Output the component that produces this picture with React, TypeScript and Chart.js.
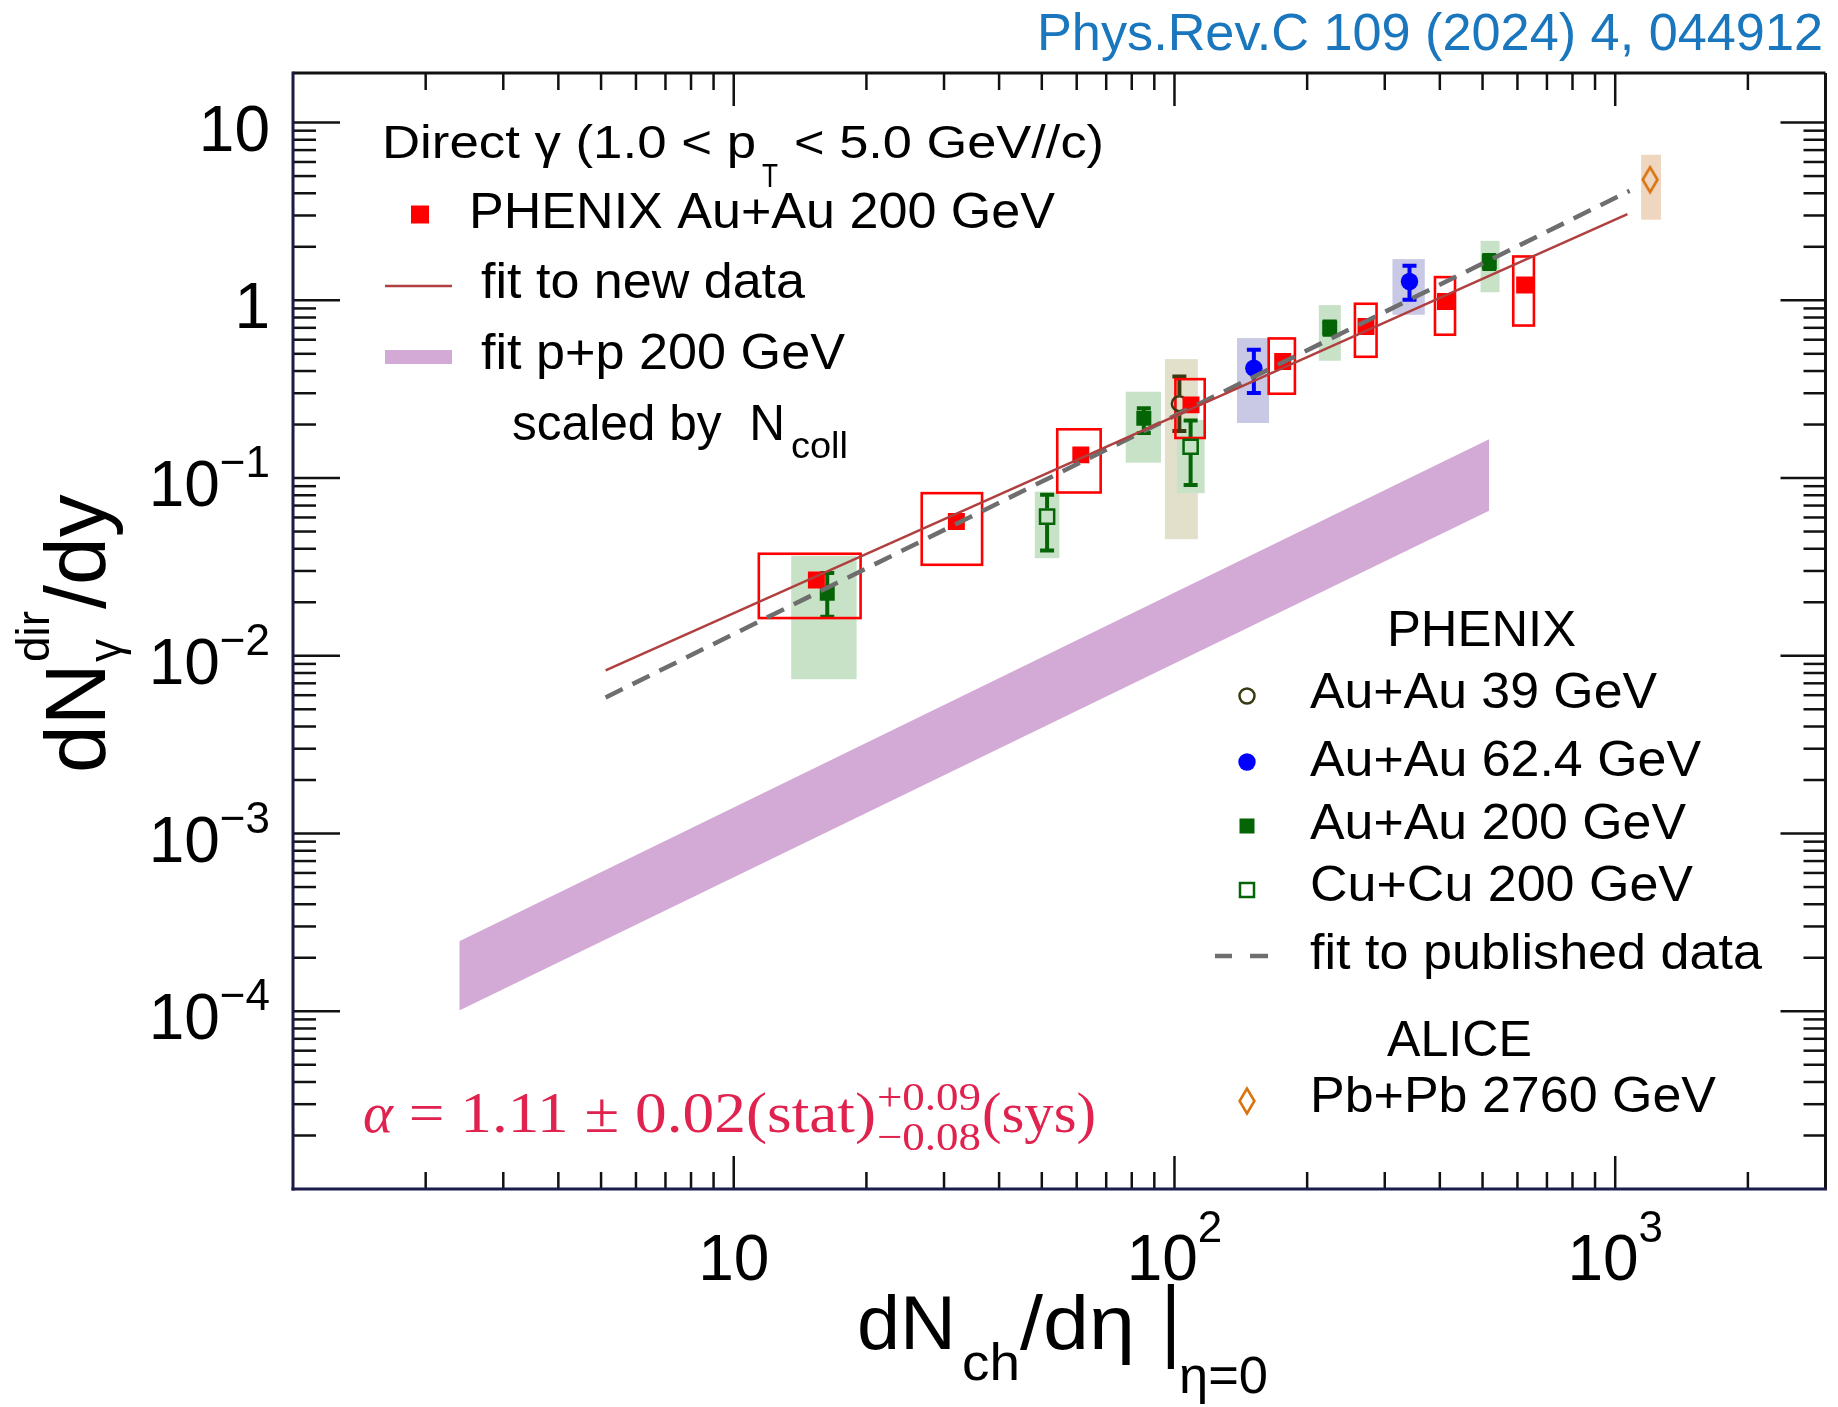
import React, { useEffect, useRef } from 'react';
import { Chart, registerables } from 'chart.js';

Chart.register(...registerables);

const W = 1838;
const H = 1407;

// ---------------- axis ranges ----------------
const X_MIN = 1;
const X_MAX = 3000;
const Y_MIN = 1e-5;
const Y_MAX = 19;
const xTickExps = [1, 2, 3];
const yTickExps = [1, 0, -1, -2, -3, -4];

// ---------------- PHENIX Au+Au 200 GeV (new data) ----------------
const newX = [15.4, 32.0, 61.3, 109, 176, 272, 412, 623];
const newY = [0.0267, 0.0569, 0.135, 0.258, 0.452, 0.712, 0.984, 1.22];
const newSysXLo = [11.4, 26.7, 54.2, 100.5, 163.6, 256.7, 390, 587];
const newSysXHi = [19.4, 36.6, 68.0, 117.1, 187.6, 287.4, 433, 654];
const newSysYLo = [0.0163, 0.0325, 0.0829, 0.168, 0.298, 0.481, 0.64, 0.721];
const newSysYHi = [0.0375, 0.0822, 0.188, 0.36, 0.61, 0.956, 1.35, 1.764];

// ---------------- PHENIX Au+Au 200 GeV (published) ----------------
const au200X = [16.3, 85.2, 225, 518];
const au200Y = [0.0225, 0.217, 0.698, 1.65];
const au200StatLo = [0.0166, 0.179, 0.64, 1.5];
const au200StatHi = [0.0292, 0.247, 0.76, 1.8];
const au200SysXLo = [13.5, 77.5, 212.6, 494.9];
const au200SysXHi = [19.0, 93.2, 238.5, 546.5];
const au200SysYLo = [0.00738, 0.122, 0.457, 1.11];
const au200SysYHi = [0.0365, 0.306, 0.94, 2.16];

// ---------------- PHENIX Cu+Cu 200 GeV ----------------
const cuX = [51.4, 108.8];
const cuY = [0.0607, 0.15];
const cuStatLo = [0.0391, 0.0915];
const cuStatHi = [0.0804, 0.211];
const cuSysXLo = [48.2, 101.3];
const cuSysXHi = [54.8, 117.1];
const cuSysYLo = [0.0354, 0.0822];
const cuSysYHi = [0.0838, 0.212];

// ---------------- PHENIX Au+Au 39 GeV ----------------
const au39X = [102.6];
const au39Y = [0.262];
const au39StatLo = [0.184];
const au39StatHi = [0.373];
const au39SysXLo = [95.1];
const au39SysXHi = [113];
const au39SysYLo = [0.0453];
const au39SysYHi = [0.467];

// ---------------- PHENIX Au+Au 62.4 GeV ----------------
const au62X = [151.4, 341.4];
const au62Y = [0.415, 1.276];
const au62StatLo = [0.3005, 1.006];
const au62StatHi = [0.527, 1.564];
const au62SysXLo = [138.6, 312.3];
const au62SysXHi = [163.9, 369.8];
const au62SysYLo = [0.204, 0.829];
const au62SysYHi = [0.613, 1.705];

// ---------------- ALICE Pb+Pb 2760 GeV ----------------
const aliceX = [1200];
const aliceY = [4.77];
const aliceSysXLo = [1145];
const aliceSysXHi = [1270];
const aliceSysYLo = [2.84];
const aliceSysYHi = [6.59];

// ---------------- fits ----------------
const fitNewX = [5.12, 1066];
const fitNewY = [0.00828, 3.05];
const fitPubX = [5.12, 1078];
const fitPubY = [0.00583, 4.13];
const ppX = [2.384, 517.4];
const ppYLo = [1.01e-4, 0.0654];
const ppYHi = [2.48e-4, 0.165];

// ---------------- styles ----------------
const SANS = '"Liberation Sans", Arial, Helvetica, sans-serif';
const SERIF = '"Liberation Serif", "Times New Roman", serif';
const RED = '#ff0000';
const FIT_RED = '#b0403f';
const GREEN = '#056405';
const GREEN_SHADE = '#c8e2c8';
const BLUE = '#0000ff';
const BLUE_SHADE = '#c9c9e5';
const OLIVE = '#3a3a12';
const OLIVE_SHADE = '#e2e0cb';
const ORANGE = '#d8730e';
const ORANGE_SHADE = '#eed6c0';
const PURPLE = '#d3aad5';
const GRAY = '#6e6e6e';
const ALPHA_RED = '#e0224e';
const CITE_BLUE = '#1a76bd';

const pts = (xs: number[], ys: number[]) => xs.map((x, i) => ({ x, y: ys[i] }));

function drawText(
  ctx: CanvasRenderingContext2D,
  s: string,
  x: number,
  y: number,
  size: number,
  o: { w?: number; sy?: number; align?: string; color?: string; family?: string; style?: string } = {}
) {
  ctx.save();
  ctx.font = `${o.style ? o.style + ' ' : ''}${size}px ${o.family ?? SANS}`;
  ctx.fillStyle = o.color ?? '#000';
  ctx.textAlign = 'left';
  ctx.textBaseline = 'alphabetic';
  const nat = ctx.measureText(s).width;
  const sx = o.w ? o.w / nat : 1;
  const tw = nat * sx;
  const x0 = o.align === 'right' ? x - tw : o.align === 'center' ? x - tw / 2 : x;
  ctx.translate(x0, y);
  ctx.scale(sx, o.sy ?? 1);
  ctx.fillText(s, 0, 0);
  ctx.restore();
  return tw;
}

function measure(ctx: CanvasRenderingContext2D, s: string, size: number, family = SANS, style = '') {
  ctx.save();
  ctx.font = `${style ? style + ' ' : ''}${size}px ${family}`;
  const w = ctx.measureText(s).width;
  ctx.restore();
  return w;
}

function makeDiamond(color: string, w: number, h: number, lw: number) {
  const c = document.createElement('canvas');
  c.width = w;
  c.height = h;
  const g = c.getContext('2d')!;
  g.strokeStyle = color;
  g.lineWidth = lw;
  g.beginPath();
  g.moveTo(w / 2, lw);
  g.lineTo(w - lw, h / 2);
  g.lineTo(w / 2, h - lw);
  g.lineTo(lw, h / 2);
  g.closePath();
  g.stroke();
  return c;
}

export default function App() {
  const ref = useRef<HTMLCanvasElement>(null);

  useEffect(() => {
    const canvas = ref.current!;
    const diamond = makeDiamond(ORANGE, 20, 30, 2.6);

    const rootPlugin = {
      id: 'rootStyle',
      beforeDatasetsDraw(chart: any) {
        const { ctx, chartArea: a } = chart;
        const X = (v: number) => chart.scales.x.getPixelForValue(v);
        const Y = (v: number) => chart.scales.y.getPixelForValue(v);
        ctx.save();
        ctx.beginPath();
        ctx.rect(a.left, a.top, a.right - a.left, a.bottom - a.top);
        ctx.clip();

        const shade = (xl: number[], xh: number[], yl: number[], yh: number[], col: string) => {
          ctx.fillStyle = col;
          xl.forEach((_, i) => {
            const x0 = X(xl[i]);
            const x1 = X(xh[i]);
            const y0 = Y(yh[i]);
            const y1 = Y(yl[i]);
            ctx.fillRect(x0, y0, x1 - x0, y1 - y0);
          });
        };
        shade(au39SysXLo, au39SysXHi, au39SysYLo, au39SysYHi, OLIVE_SHADE);
        shade(au200SysXLo, au200SysXHi, au200SysYLo, au200SysYHi, GREEN_SHADE);
        shade(cuSysXLo, cuSysXHi, cuSysYLo, cuSysYHi, GREEN_SHADE);
        shade(au62SysXLo, au62SysXHi, au62SysYLo, au62SysYHi, BLUE_SHADE);
        shade(aliceSysXLo, aliceSysXHi, aliceSysYLo, aliceSysYHi, ORANGE_SHADE);

        // stat error bars
        const bars = (xs: number[], ys: number[], lo: number[], hi: number[], col: string, gap: number) => {
          ctx.strokeStyle = col;
          ctx.lineWidth = 4;
          xs.forEach((x, i) => {
            const px = X(x);
            const py = Y(ys[i]);
            const pl = Y(lo[i]);
            const ph = Y(hi[i]);
            ctx.beginPath();
            ctx.moveTo(px, pl);
            ctx.lineTo(px, py + gap);
            ctx.moveTo(px, py - gap);
            ctx.lineTo(px, ph);
            ctx.moveTo(px - 7, pl);
            ctx.lineTo(px + 7, pl);
            ctx.moveTo(px - 7, ph);
            ctx.lineTo(px + 7, ph);
            ctx.stroke();
          });
        };
        bars(au39X, au39Y, au39StatLo, au39StatHi, OLIVE, 8);
        bars(au200X, au200Y, au200StatLo, au200StatHi, GREEN, 0);
        bars(cuX, cuY, cuStatLo, cuStatHi, GREEN, 8);
        bars(au62X, au62Y, au62StatLo, au62StatHi, BLUE, 0);

        // red open sys boxes
        ctx.strokeStyle = RED;
        ctx.lineWidth = 2.6;
        newX.forEach((_, i) => {
          const x0 = X(newSysXLo[i]);
          const x1 = X(newSysXHi[i]);
          const y0 = Y(newSysYHi[i]);
          const y1 = Y(newSysYLo[i]);
          ctx.strokeRect(x0, y0, x1 - x0, y1 - y0);
        });
        ctx.restore();
      },
      afterDraw(chart: any) {
        const { ctx, chartArea: a } = chart;
        const xs = chart.scales.x;
        const ys = chart.scales.y;
        ctx.save();
        const seg = (x0: number, y0: number, x1: number, y1: number) => {
          ctx.beginPath();
          ctx.moveTo(x0, y0);
          ctx.lineTo(x1, y1);
          ctx.stroke();
        };
        // ticks
        ctx.strokeStyle = '#111';
        ctx.lineWidth = 2.5;
        for (let e = 0; e <= 3; e++) {
          for (let m = 1; m <= 9; m++) {
            const v = m * Math.pow(10, e);
            if (v <= X_MIN || v > X_MAX) continue;
            const px = xs.getPixelForValue(v);
            const L = m === 1 ? 33 : 17;
            seg(px, a.bottom, px, a.bottom - L);
            seg(px, a.top, px, a.top + L);
          }
        }
        for (let e = -5; e <= 1; e++) {
          for (let m = 1; m <= 9; m++) {
            const v = m * Math.pow(10, e);
            if (v <= Y_MIN * 1.001 || v > Y_MAX) continue;
            const py = ys.getPixelForValue(v);
            seg(a.left, py, a.left + (m === 1 ? 47 : 23), py);
            seg(a.right, py, a.right - (m === 1 ? 45 : 22), py);
          }
        }
        // frame
        ctx.lineWidth = 3;
        ctx.strokeStyle = '#111';
        seg(a.left, a.top, a.right, a.top);
        seg(a.right, a.top, a.right, a.bottom);
        ctx.strokeStyle = '#1b1b4a';
        seg(a.left, a.top - 1.5, a.left, a.bottom + 1.5);
        seg(a.left - 1.5, a.bottom, a.right + 1.5, a.bottom);

        // tick labels
        for (const e of yTickExps) {
          const py = ys.getPixelForValue(Math.pow(10, e));
          const right = 270;
          if (e >= 0) {
            drawText(ctx, e === 1 ? '10' : '1', right, py + 28, 64, { align: 'right' });
          } else {
            const sup = '\u2212' + String(-e);
            const ws = measure(ctx, sup, 44);
            drawText(ctx, sup, right - ws, py - 1, 44);
            drawText(ctx, '10', right - ws, py + 28, 64, { align: 'right' });
          }
        }
        for (const e of xTickExps) {
          const px = xs.getPixelForValue(Math.pow(10, e));
          const sup = e === 1 ? '' : String(e);
          const wm = measure(ctx, '10', 64);
          const ws = sup ? measure(ctx, sup, 44) : 0;
          const x0 = px - (wm + ws) / 2;
          drawText(ctx, '10', x0, 1280, 64);
          if (sup) drawText(ctx, sup, x0 + wm, 1242, 44);
        }

        // axis titles
        drawText(ctx, 'dN', 857, 1349, 76, { w: 99 });
        drawText(ctx, 'ch', 962, 1380, 52, { w: 58 });
        drawText(ctx, '/d\u03b7', 1020, 1349, 76, { w: 115 });
        drawText(ctx, '|', 1161, 1350, 76, { sy: 1.2 });
        drawText(ctx, '\u03b7=0', 1179, 1393, 52, { w: 89 });

        ctx.save();
        ctx.translate(105, 773);
        ctx.rotate(-Math.PI / 2);
        const wdN = drawText(ctx, 'dN', 0, 0, 86);
        const wdir = drawText(ctx, 'dir', wdN + 1, -56, 46);
        drawText(ctx, '\u03b3', wdN + 1, 16, 46);
        drawText(ctx, '/dy', wdN + wdir + 3, 0, 86);
        ctx.restore();

        // citation
        drawText(ctx, 'Phys.Rev.C 109 (2024) 4, 044912', 1037, 50, 52, { w: 786, color: CITE_BLUE });

        // top-left legend
        drawText(ctx, 'Direct \u03b3 (1.0 < p', 382, 158, 47, { w: 374 });
        drawText(ctx, 'T', 762, 187, 34, { w: 16 });
        drawText(ctx, '< 5.0 GeV//c)', 794, 158, 47, { w: 310 });
        ctx.fillStyle = RED;
        ctx.fillRect(411, 205.5, 18, 18);
        drawText(ctx, 'PHENIX Au+Au 200 GeV', 469, 228, 50, { w: 586 });
        ctx.strokeStyle = FIT_RED;
        ctx.lineWidth = 2.5;
        seg(385, 286, 452, 286);
        drawText(ctx, 'fit to new data', 481, 298, 50, { w: 324 });
        ctx.fillStyle = PURPLE;
        ctx.fillRect(385, 350, 67, 14);
        drawText(ctx, 'fit p+p 200 GeV', 481, 369, 50, { w: 364 });
        drawText(ctx, 'scaled by  N', 512, 440, 50, { w: 273 });
        drawText(ctx, 'coll', 791, 458, 36, { w: 57 });

        // right legend
        const mx = 1247;
        drawText(ctx, 'PHENIX', 1387, 646, 50, { w: 189 });
        ctx.strokeStyle = OLIVE;
        ctx.lineWidth = 2.5;
        ctx.beginPath();
        ctx.arc(mx, 696, 7.5, 0, Math.PI * 2);
        ctx.stroke();
        drawText(ctx, 'Au+Au 39 GeV', 1310, 708, 50, { w: 347 });
        ctx.fillStyle = BLUE;
        ctx.beginPath();
        ctx.arc(mx, 762, 8.7, 0, Math.PI * 2);
        ctx.fill();
        drawText(ctx, 'Au+Au 62.4 GeV', 1310, 776, 50, { w: 391 });
        ctx.fillStyle = GREEN;
        ctx.fillRect(mx - 7.5, 826 - 7.5, 15, 15);
        drawText(ctx, 'Au+Au 200 GeV', 1310, 839, 50, { w: 376 });
        ctx.strokeStyle = GREEN;
        ctx.lineWidth = 2.5;
        ctx.strokeRect(mx - 7, 890 - 7, 14, 14);
        drawText(ctx, 'Cu+Cu 200 GeV', 1310, 901, 50, { w: 383 });
        ctx.strokeStyle = GRAY;
        ctx.lineWidth = 4.5;
        seg(1215, 956, 1232, 956);
        seg(1250, 956, 1268, 956);
        drawText(ctx, 'fit to published data', 1310, 969, 50, { w: 452 });
        drawText(ctx, 'ALICE', 1387, 1056, 50, { w: 145 });
        ctx.drawImage(diamond, mx - 10, 1101 - 15);
        drawText(ctx, 'Pb+Pb 2760 GeV', 1310, 1112, 50, { w: 406 });

        // alpha
        const wa = drawText(ctx, '\u03b1', 363, 1132, 57, { family: SERIF, style: 'italic', color: ALPHA_RED });
        drawText(ctx, ' = 1.11 \u00b1 0.02(stat)', 363 + wa, 1132, 57, { family: SERIF, color: ALPHA_RED, w: 876 - 363 - wa });
        drawText(ctx, '+0.09', 877, 1110, 40, { family: SERIF, color: ALPHA_RED, w: 104 });
        drawText(ctx, '\u22120.08', 877, 1150, 40, { family: SERIF, color: ALPHA_RED, w: 104 });
        drawText(ctx, '(sys)', 982, 1132, 57, { family: SERIF, color: ALPHA_RED, w: 114 });

        ctx.restore();
      },
    };

    const chart = new Chart(canvas, {
      type: 'scatter',
      data: {
        datasets: [
          {
            type: 'line',
            label: 'pp low',
            data: pts(ppX, ppYLo),
            borderWidth: 0,
            pointRadius: 0,
            fill: false,
            order: 10,
          } as any,
          {
            type: 'line',
            label: 'fit p+p 200 GeV scaled by Ncoll',
            data: pts(ppX, ppYHi),
            borderWidth: 0,
            pointRadius: 0,
            fill: '-1',
            backgroundColor: PURPLE,
            order: 9,
          } as any,
          {
            type: 'line',
            label: 'fit to new data',
            data: pts(fitNewX, fitNewY),
            borderColor: FIT_RED,
            borderWidth: 2.5,
            pointRadius: 0,
            fill: false,
            order: 0,
          } as any,
          {
            type: 'line',
            label: 'fit to published data',
            data: pts(fitPubX, fitPubY),
            borderColor: GRAY,
            borderWidth: 4.5,
            borderDash: [19, 11],
            pointRadius: 0,
            fill: false,
            order: 0,
          } as any,
          {
            label: 'PHENIX Au+Au 200 GeV',
            data: pts(newX, newY),
            pointStyle: 'rect',
            pointRadius: 12,
            pointHoverRadius: 12,
            backgroundColor: RED,
            borderWidth: 0,
            order: 2,
          },
          {
            label: 'Au+Au 200 GeV',
            data: pts(au200X, au200Y),
            pointStyle: 'rect',
            pointRadius: 10.6,
            pointHoverRadius: 10.6,
            backgroundColor: GREEN,
            borderWidth: 0,
            order: 3,
          },
          {
            label: 'Cu+Cu 200 GeV',
            data: pts(cuX, cuY),
            pointStyle: 'rect',
            pointRadius: 10,
            pointHoverRadius: 10,
            backgroundColor: 'rgba(0,0,0,0)',
            borderColor: GREEN,
            borderWidth: 2.5,
            order: 3,
          },
          {
            label: 'Au+Au 39 GeV',
            data: pts(au39X, au39Y),
            pointStyle: 'circle',
            pointRadius: 7.5,
            pointHoverRadius: 7.5,
            backgroundColor: 'rgba(0,0,0,0)',
            borderColor: OLIVE,
            borderWidth: 2.5,
            order: 4,
          },
          {
            label: 'Au+Au 62.4 GeV',
            data: pts(au62X, au62Y),
            pointStyle: 'circle',
            pointRadius: 8.7,
            pointHoverRadius: 8.7,
            backgroundColor: BLUE,
            borderWidth: 0,
            order: 3,
          },
          {
            label: 'Pb+Pb 2760 GeV',
            data: pts(aliceX, aliceY),
            pointStyle: diamond as any,
            pointRadius: 10,
            order: 3,
          },
        ],
      },
      options: {
        responsive: false,
        animation: false,
        devicePixelRatio: 1,
        events: [],
        layout: { padding: { left: 293, top: 73, right: 1.5, bottom: 218 } },
        plugins: { legend: { display: false }, tooltip: { enabled: false } },
        scales: {
          x: { type: 'logarithmic', min: X_MIN, max: X_MAX, display: false },
          y: { type: 'logarithmic', min: Y_MIN, max: Y_MAX, display: false },
        },
      },
      plugins: [rootPlugin],
    });
    return () => chart.destroy();
  }, []);

  return (
    <div style={{ position: 'absolute', left: 0, top: 0, width: W, height: H, background: '#fff' }}>
      <canvas ref={ref} width={W} height={H} style={{ display: 'block', width: W, height: H }} />
    </div>
  );
}
